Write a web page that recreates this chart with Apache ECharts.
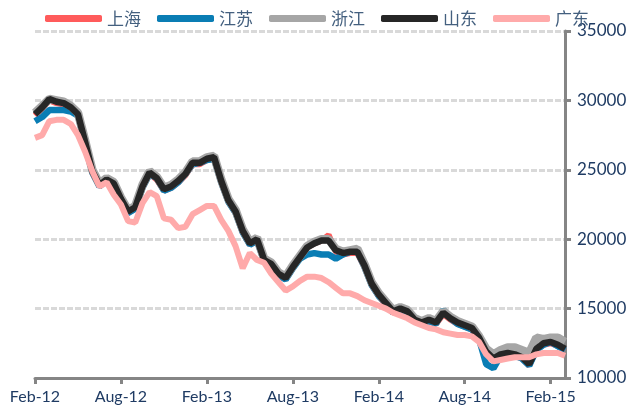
<!DOCTYPE html>
<html>
<head>
<meta charset="utf-8">
<script src="https://cdn.jsdelivr.net/npm/echarts@6/dist/echarts.min.js"></script>
<style>
    html, body { margin: 0; padding: 0; background: #fff; }
    #main { width: 630px; height: 412px; }
</style>
</head>
<body>
<div id="main"></div>
<script>
// 半月一个点, 2012-02 ~ 2015-02
var names = ['上海', '江苏', '浙江', '山东', '广东'];
var tickLabels = ['Feb-12', 'Aug-12', 'Feb-13', 'Aug-13', 'Feb-14', 'Aug-14', 'Feb-15'];
var monthNames = ['Jan','Feb','Mar','Apr','May','Jun','Jul','Aug','Sep','Oct','Nov','Dec'];

var shandong = [29000,29500,30100,29900,29800,29500,29000,27000,24900,23900,
    24300,24000,22900,22000,22300,23800,24800,24400,23600,23800,
    24200,24700,25500,25500,25800,25900,24200,22800,22000,20600,
    19700,20000,18500,18200,17500,17200,18000,18700,19400,19700,
    19900,19900,19200,19000,19100,19100,18100,16800,16000,15400,
    14800,15000,14800,14200,14000,14200,14000,14700,14300,14000,
    13800,13600,12900,11900,11400,11700,11800,11700,11500,11000,
    12100,12500,12600,12400,12100];

var guangdong = [27300,27500,28500,28600,28600,28300,27500,26300,24900,23800,
    24100,23200,22500,21300,21200,22600,23400,23100,21500,21400,
    20800,20900,21800,22100,22400,22400,21400,20600,19500,17900,
    19000,18500,18300,17500,16900,16300,16600,17000,17300,17300,
    17200,16900,16500,16100,16100,15900,15600,15400,15200,15000,
    14700,14500,14300,14000,13800,13600,13500,13300,13200,13100,
    13100,13000,12600,11700,11200,11300,11400,11500,11500,11500,
    11700,11800,11800,11800,11600];

var jiangsu = [28500,28800,29300,29300,29300,29200,28900,26900,24800,23800,
    24300,23900,22800,21900,22200,23700,24700,24400,23500,23700,
    24100,24700,25400,25500,25700,25800,24100,22700,21900,20500,
    19600,19900,18400,18100,17400,17100,17900,18600,18900,19000,
    18900,18900,18600,18900,19100,19100,18000,16700,15900,15400,
    14700,15000,14700,14100,13900,14100,13900,14900,14300,13900,
    13700,13500,12800,11000,10700,11600,11700,11600,11400,10900,
    12000,12400,12600,12300,12000];

var zhejiang = [29100,29600,30100,30000,29900,29600,29100,27100,25000,24000,
    24400,24100,23000,22100,22400,23900,24900,24500,23700,23900,
    24300,24800,25600,25600,25900,26000,24300,22900,22100,20700,
    19800,20100,18600,18300,17600,17300,18100,18800,19500,19800,
    20000,20000,19300,19100,19200,19300,18200,16900,16100,15500,
    14900,15100,14900,14300,14100,14300,14100,14800,14400,14100,
    13900,13700,13000,12100,11700,12000,12200,12200,12000,11800,
    12900,12800,12900,12900,12600];

var shanghai = [28900,29400,30000,29800,29700,29400,28900,26900,24800,23800,
    24200,23900,22800,21900,22200,23700,24700,24300,23500,23700,
    24100,24600,25400,25400,25700,25800,24100,22700,21900,20500,
    19600,19900,18400,18100,17400,17100,17900,18700,19400,19700,
    19900,20300,19100,18900,19000,19000,18000,16700,15900,15300,
    14700,14900,14700,14100,13900,14100,13900,14600,14200,13900,
    13700,13500,12800,11800,11300,11600,11700,11600,11400,10900,
    12000,12400,12500,12300,12000];

var dates = [];
for (var i = 0; i < shandong.length; i++) {
    var m = 1 + Math.floor(i / 2);
    var y = 2012 + Math.floor(m / 12);
    dates.push(y + '-' + monthNames[m % 12] + (i % 2 ? '-16' : '-01'));
}

var colors = ['#ff5b5b', '#0a7db4', '#a6a6a6', '#262626', '#ffaaaa'];
var widths = [6, 6.5, 8.5, 6.5, 6];
var values = [shanghai, jiangsu, zhejiang, shandong, guangdong];

var series = [];
for (var s = 0; s < names.length; s++) {
    series.push({
        name: names[s],
        type: 'line',
        symbol: 'none',
        smooth: false,
        lineStyle: { width: widths[s], color: colors[s] },
        itemStyle: { color: colors[s] },
        data: values[s]
    });
}

var myChart = echarts.init(document.getElementById('main'));
var option = {
    animation: false,
    backgroundColor: '#fff',
    color: colors,
    legend: {
        data: names,
        left: 40,
        top: 5,
        icon: 'roundRect',
        itemWidth: 57,
        itemHeight: 7,
        itemGap: 16,
        textStyle: {
            color: '#44607f',
            fontSize: 17,
            fontFamily: 'Noto Sans CJK SC'
        }
    },
    grid: {
        left: 35,
        right: 65,
        top: 31,
        bottom: 34
    },
    xAxis: {
        type: 'category',
        boundaryGap: false,
        data: dates,
        axisLine: { lineStyle: { color: '#858585', width: 3 } },
        axisTick: {
            interval: 11,
            length: 6,
            lineStyle: { color: '#858585', width: 3 }
        },
        axisLabel: {
            interval: 11,
            margin: 11,
            color: '#1f3b63',
            fontSize: 16,
            fontFamily: 'Lato',
            formatter: function (v, idx) {
                return tickLabels[idx / 12] || '';
            }
        },
        splitLine: { show: false }
    },
    yAxis: {
        type: 'value',
        position: 'right',
        min: 10000,
        max: 35000,
        interval: 5000,
        axisLine: { show: true, lineStyle: { color: '#858585', width: 3 } },
        axisTick: { show: true, length: 6, lineStyle: { color: '#858585', width: 3 } },
        axisLabel: {
            margin: 12,
            color: '#1f3b63',
            fontSize: 17,
            fontFamily: 'Lato',
            formatter: function (v) { return String(v); }
        },
        splitLine: {
            lineStyle: { color: '#d9d9d9', width: 3, type: [6, 2] }
        }
    },
    series: series
};
myChart.setOption(option);
</script>
</body>
</html>
